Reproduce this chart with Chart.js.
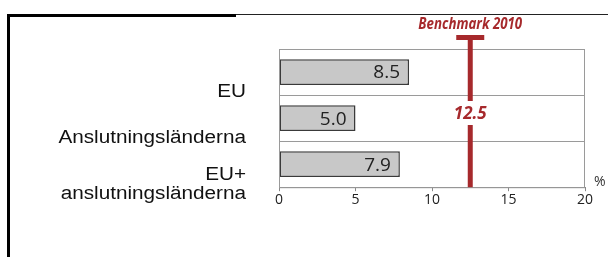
<!DOCTYPE html>
<html>
<head>
<meta charset="utf-8">
<script src="https://cdn.jsdelivr.net/npm/chart.js@4/dist/chart.umd.min.js"></script>
<style>
  html, body { margin: 0; padding: 0; background: #fff; }
  #wrap { width: 612px; height: 257px; }
</style>
</head>
<body>
<div id="wrap"><canvas id="chart" width="612" height="257"></canvas></div>
<script>
// Chart data
const categories = [['EU'], ['Anslutningsländerna'], ['EU+', 'anslutningsländerna']];
const values = [8.5, 5.0, 7.9];
const xTicks = [0, 5, 10, 15, 20];
const benchmarkValue = 12.5;
const benchmarkTitle = 'Benchmark 2010';
const unitLabel = '%';

const RED = '#a6292c';

// draw text squeezed or stretched horizontally
const drawScaledText = function(ctx, text, x, y, sx) {
    ctx.save();
    ctx.translate(x, y);
    ctx.scale(sx, 1);
    ctx.fillText(text, 0, 0);
    ctx.restore();
};

// Frame, labels and benchmark line drawn on top of the chart
const decorPlugin = {
    id: 'decor',
    beforeDraw: function(chart) {
        const ctx = chart.ctx;
        ctx.save();
        ctx.fillStyle = '#000';
        ctx.fillRect(7, 14, 229, 3);
        ctx.fillRect(7, 14, 3, 243);
        ctx.fillStyle = '#222';
        ctx.fillRect(236, 14, 372, 1);
        ctx.restore();
    },
    afterDatasetsDraw: function(chart) {
        const ctx = chart.ctx;
        const area = chart.chartArea;
        const x = chart.scales.x;
        const y = chart.scales.y;
        ctx.save();

        // box around plot
        ctx.strokeStyle = '#9a9a9a';
        ctx.lineWidth = 1;
        ctx.strokeRect(area.left + 0.5, area.top + 0.5, area.right - area.left - 1, area.bottom - area.top);

        // value labels inside bars
        ctx.font = '19px "Open Sans", sans-serif';
        ctx.fillStyle = '#222';
        ctx.textAlign = 'right';
        ctx.textBaseline = 'middle';
        values.forEach(function(v, i) {
            ctx.fillText(v.toFixed(1), x.getPixelForValue(v) - 9, y.getPixelForValue(i) + 1);
        });

        // category labels, shifted below the bars as in the original
        ctx.font = '18px "Liberation Sans", Arial, sans-serif';
        ctx.fillStyle = '#111';
        categories.forEach(function(lines, i) {
            const cy = y.getPixelForValue(i) + 20;
            const lh = 19;
            lines.forEach(function(t, j) {
                drawScaledText(ctx, t, 246, cy + (j - (lines.length - 1) / 2) * lh, 1.15);
            });
        });

        // benchmark line
        const bx = x.getPixelForValue(benchmarkValue);
        ctx.fillStyle = RED;
        ctx.fillRect(bx - 2.5, 35, 5, area.bottom - 35);
        ctx.fillRect(bx - 14, 35, 28, 5);

        ctx.font = 'italic bold 16px "Open Sans", sans-serif';
        ctx.textAlign = 'center';
        drawScaledText(ctx, benchmarkTitle, bx, 24, 0.83);

        ctx.fillStyle = '#fff';
        ctx.fillRect(bx - 20, 101, 40, 24);
        ctx.fillStyle = RED;
        ctx.font = 'italic bold 17px "Open Sans", sans-serif';
        ctx.fillText(benchmarkValue.toFixed(1), bx, 114);

        // unit
        ctx.font = '14px "Open Sans", sans-serif';
        ctx.fillStyle = '#333';
        ctx.textAlign = 'left';
        ctx.fillText(unitLabel, 594, 182);
        ctx.restore();
    }
};

const chart = new Chart(document.getElementById('chart'), {
    type: 'bar',
    data: {
        labels: categories,
        datasets: [{
            data: values,
            backgroundColor: '#c8c8c8',
            borderColor: '#3a3a3a',
            borderWidth: 1.5,
            borderSkipped: false,
            categoryPercentage: 0.56,
            barPercentage: 1
        }]
    },
    options: {
        indexAxis: 'y',
        responsive: false,
        animation: false,
        layout: { padding: { left: 279, right: 27, top: 49, bottom: 49 } },
        plugins: {
            legend: { display: false },
            tooltip: { enabled: false }
        },
        scales: {
            x: {
                min: 0,
                max: 20,
                afterBuildTicks: function(axis) {
                    axis.ticks = xTicks.map(function(v) { return { value: v }; });
                },
                grid: { drawOnChartArea: false, drawTicks: true, tickLength: 4, color: '#888' },
                border: { color: '#888', width: 1 },
                ticks: {
                    padding: 0,
                    color: '#222',
                    font: { family: '"Open Sans", sans-serif', size: 14 }
                }
            },
            y: {
                grid: { offset: true, drawTicks: false, color: '#9a9a9a' },
                border: { color: '#9a9a9a' },
                ticks: { display: false }
            }
        }
    },
    plugins: [decorPlugin]
});
</script>
</body>
</html>
